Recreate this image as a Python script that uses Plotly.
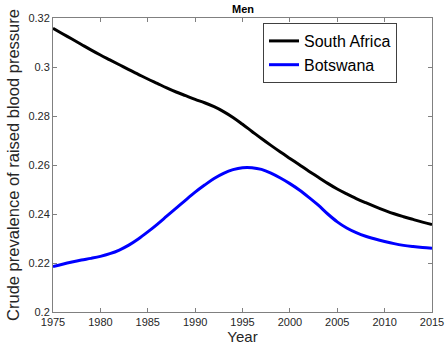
import plotly.graph_objects as go

years = list(range(1975, 2016))
south_africa = [0.3158, 0.3136, 0.3114, 0.3092, 0.3070, 0.3049, 0.3029, 0.3009, 0.2989, 0.2970,
                0.2951, 0.2933, 0.2915, 0.2898, 0.2883, 0.2868, 0.2854, 0.2838, 0.2818, 0.2794,
                0.2766, 0.2737, 0.2708, 0.2680, 0.2653, 0.2627, 0.2601, 0.2575, 0.2550, 0.2525,
                0.2502, 0.2482, 0.2463, 0.2446, 0.2430, 0.2415, 0.2401, 0.2389, 0.2378, 0.2367,
                0.2357]
botswana = [0.2185, 0.2195, 0.2204, 0.2212, 0.2219, 0.2227, 0.2238, 0.2253, 0.2273, 0.2298,
            0.2327, 0.2358, 0.2391, 0.2424, 0.2457, 0.2489, 0.2518, 0.2545, 0.2566, 0.2581,
            0.2589, 0.2589, 0.2582, 0.2567, 0.2547, 0.2524, 0.2498, 0.2468, 0.2436, 0.2400,
            0.2368, 0.2343, 0.2324, 0.2309, 0.2298, 0.2288, 0.2279, 0.2272, 0.2267, 0.2263,
            0.2260]
x_ticks = [1975, 1980, 1985, 1990, 1995, 2000, 2005, 2010, 2015]
y_ticks = [0.2, 0.22, 0.24, 0.26, 0.28, 0.3, 0.32]

fig = go.Figure()
fig.add_trace(go.Scatter(x=years, y=south_africa, mode="lines", name="South Africa",
                         line=dict(color="black", width=3, shape="spline")))
fig.add_trace(go.Scatter(x=years, y=botswana, mode="lines", name="Botswana",
                         line=dict(color="#0000ff", width=3, shape="spline")))

axis_common = dict(showgrid=False, zeroline=False, showline=True, linecolor="#808080",
                   linewidth=1, mirror="ticks", ticks="inside", ticklen=4,
                   tickcolor="#808080", tickfont=dict(family="Liberation Sans", size=11, color="#262626"))

fig.update_xaxes(range=[1975, 2015], tickvals=x_ticks,
                 title=dict(text="Year", font=dict(family="Liberation Sans", size=15, color="#262626"), standoff=3),
                 **axis_common)
fig.update_yaxes(range=[0.2, 0.32], tickvals=y_ticks,
                 title=dict(text="Crude prevalence of raised blood pressure",
                            font=dict(family="Liberation Sans", size=16.5, color="#262626"), standoff=4),
                 **axis_common)

fig.update_layout(
    width=447, height=352,
    margin=dict(l=53, r=15, t=18, b=40, autoexpand=False),
    plot_bgcolor="white", paper_bgcolor="white",
    title=dict(text="<b>Men</b>", x=(53 + 190) / 447, xanchor="center", y=1 - 9 / 352, yanchor="middle",
               font=dict(family="Liberation Sans", size=11, color="black")),
    legend=dict(x=(263 - 53) / 379, y=(312 - 23) / 294, xanchor="left", yanchor="top", bgcolor="white",
                bordercolor="#404040", borderwidth=1,
                font=dict(family="Liberation Sans", size=16, color="black"),
                tracegroupgap=0, itemwidth=30),
    showlegend=True,
)

fig.write_html("out.html", config={"displayModeBar": False},
               post_script="document.body.style.margin='0';document.body.style.overflow='hidden';")
